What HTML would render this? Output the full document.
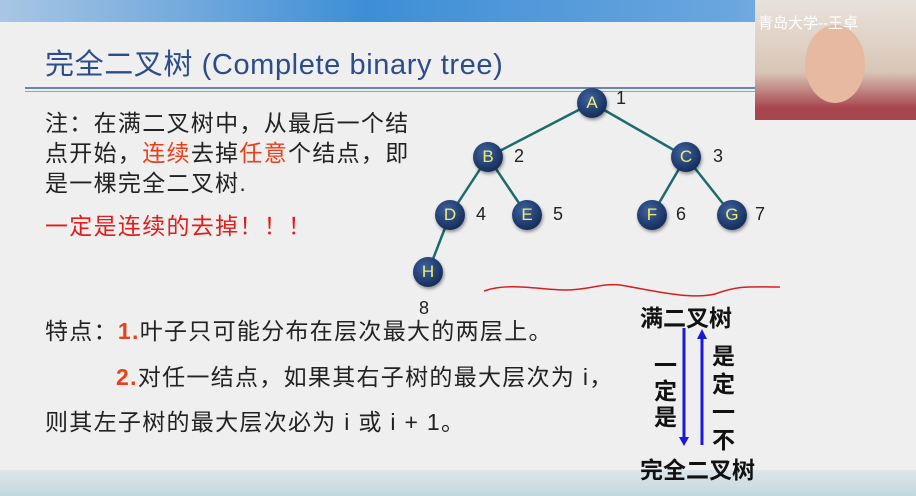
<!DOCTYPE html>
<html><head><meta charset="utf-8"><style>
body{margin:0;width:916px;height:496px;overflow:hidden;background:#efefef;font-family:"Liberation Sans","Noto Sans CJK SC",sans-serif;position:relative}
.t{position:absolute;white-space:nowrap;color:#222;font-size:23px;letter-spacing:1.3px;line-height:30px}
.r{color:#e8401c}
.n{position:absolute;width:30px;height:30px;border-radius:50%;background:radial-gradient(circle at 40% 35%,#3f62a0,#17305e 70%,#0c1b40);color:#f3ee6a;font-size:17px;text-align:center;line-height:30px;font-family:"Liberation Sans",sans-serif;box-shadow:1px 2px 3px rgba(0,0,0,.4)}
.l{position:absolute;font-size:18px;color:#222}
.b{position:absolute;font-weight:bold;font-size:23px;color:#111}
</style></head><body>
<div style="position:absolute;left:0;top:0;width:916px;height:22px;background:linear-gradient(90deg,#a9c6e4,#3d8ed6 40%,#6aa6de 80%,#9fc4ea)"></div>
<div style="position:absolute;left:0;top:470px;width:916px;height:26px;background:linear-gradient(#dde6ea,#c2d8e0)"></div>
<div class="t" style="left:45px;top:47px;font-size:29px;letter-spacing:0.6px;color:#2c4d8a;line-height:36px">完全二叉树 (Complete binary tree)</div>
<div style="position:absolute;left:25px;top:87px;width:730px;height:2px;background:#6a86b3"></div>
<div style="position:absolute;left:25px;top:91px;width:730px;height:1px;background:#8ca2c6"></div>
<div style="position:absolute;left:755px;top:0;width:161px;height:120px;background:linear-gradient(#e8e2dc,#d9c6b6 60%,#a8464f 90%)"></div>
<div style="position:absolute;left:805px;top:25px;width:60px;height:78px;border-radius:50%;background:#e6b9a0"></div>
<div style="position:absolute;left:758px;top:12px;color:#fff;font-size:15px;white-space:nowrap">青岛大学--王卓</div>
<svg style="position:absolute;left:0;top:0" width="916" height="496">
<g stroke="#1d6b6b" stroke-width="2.5">
<line x1="592" y1="103" x2="488" y2="157"/><line x1="592" y1="103" x2="686" y2="157"/>
<line x1="488" y1="157" x2="450" y2="215"/><line x1="488" y1="157" x2="527" y2="215"/>
<line x1="686" y1="157" x2="652" y2="215"/><line x1="686" y1="157" x2="732" y2="215"/>
<line x1="450" y1="215" x2="428" y2="272"/></g>
<path d="M484 291 C510 282,540 290,565 290 C590 290,600 283,620 285 C650 290,690 300,715 294 C740 285,750 287,780 287" stroke="#d62020" stroke-width="1.5" fill="none"/>
<g stroke="#1a1ad6" stroke-width="3"><line x1="684" y1="328" x2="684" y2="440"/><line x1="702" y1="336" x2="702" y2="445"/></g>
<polygon points="679,437 689,437 684,446" fill="#1a1ad6"/><polygon points="697,339 707,339 702,329" fill="#1a1ad6"/>
</svg>
<div class="n" style="left:577px;top:88px">A</div><div class="l" style="left:616px;top:88px">1</div>
<div class="n" style="left:473px;top:142px">B</div><div class="l" style="left:514px;top:146px">2</div>
<div class="n" style="left:671px;top:142px">C</div><div class="l" style="left:713px;top:146px">3</div>
<div class="n" style="left:435px;top:200px">D</div><div class="l" style="left:476px;top:204px">4</div>
<div class="n" style="left:512px;top:200px">E</div><div class="l" style="left:553px;top:204px">5</div>
<div class="n" style="left:637px;top:200px">F</div><div class="l" style="left:676px;top:204px">6</div>
<div class="n" style="left:717px;top:200px">G</div><div class="l" style="left:755px;top:204px">7</div>
<div class="n" style="left:413px;top:257px">H</div><div class="l" style="left:419px;top:298px">8</div>
<div class="t" style="left:45px;top:108px">注：在满二叉树中，从最后一个结</div>
<div class="t" style="left:45px;top:138px">点开始，<span class="r">连续</span>去掉<span class="r">任意</span>个结点，即</div>
<div class="t" style="left:45px;top:168px">是一棵完全二叉树.</div>
<div class="t" style="left:45px;top:211px;color:#e21c1c">一定是连续的去掉！！！</div>
<div class="t" style="left:45px;top:316px">特点：<b class="r">1.</b>叶子只可能分布在层次最大的两层上。</div>
<div class="t" style="left:116px;top:362px"><b class="r">2.</b>对任一结点，如果其右子树的最大层次为 i，</div>
<div class="t" style="left:45px;top:407px">则其左子树的最大层次必为 i 或 i + 1。</div>
<div class="b" style="left:640px;top:299px">满二叉树</div>
<div class="b" style="left:654px;top:352px;width:24px;line-height:26px">一<br>定<br>是</div>
<div class="b" style="left:712px;top:342px;width:24px;line-height:28px">是<br>定<br>一<br>不</div>
<div class="b" style="left:640px;top:451px">完全二叉树</div>
</body></html>
